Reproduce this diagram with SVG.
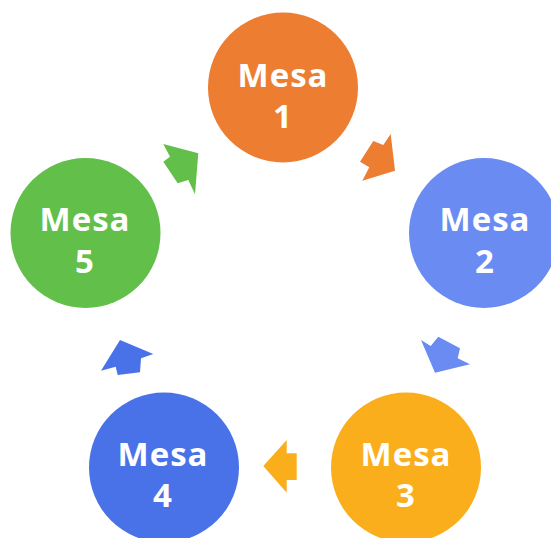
<svg xmlns="http://www.w3.org/2000/svg" width="551" height="538" viewBox="0 0 551 538">
<style>
.lbl{font-family:"Open Sans","Liberation Sans",sans-serif;font-weight:700;font-size:33px;fill:#ffffff;text-anchor:middle;letter-spacing:1px}
</style>
<rect width="551" height="538" fill="#ffffff"/>
<g id="connectors">
<polygon fill="#ED7D31" points="390.7,134 395,170.7 362.3,180.7 369.3,167.3 360,161.7 373.3,141 383.3,145"/>
<polygon fill="#6A8BF2" points="421,340 430.7,346 438.3,336.7 460,348.3 457.7,358.3 470,364.3 435,372.7"/>
<polygon fill="#FBAE1B" points="263.3,466 286.7,440 286.7,453.3 296.7,453.3 296.7,480 286.7,480 286.7,492.7"/>
<polygon fill="#4A72E8" points="120,340 153.3,354 141,358.3 140,372.3 117.7,375 115.7,366.7 101,370.7"/>
<polygon fill="#62BF4A" points="163.3,144 198.3,153.3 195,194.3 188.3,180 177.7,183.3 163.3,161.7 170,156.7"/>
</g>
<g id="mesa1">
<circle cx="283" cy="87.5" r="75" fill="#ED7D31"/>
<text class="lbl" x="283" y="87">Mesa</text>
<text class="lbl" x="283" y="128">1</text>
</g>
<g id="mesa2">
<circle cx="484" cy="233" r="75" fill="#6A8BF2"/>
<text class="lbl" x="485" y="231">Mesa</text>
<text class="lbl" x="485" y="273">2</text>
</g>
<g id="mesa3">
<circle cx="406" cy="467.5" r="75" fill="#FBAE1B"/>
<text class="lbl" x="406" y="466">Mesa</text>
<text class="lbl" x="406" y="507">3</text>
</g>
<g id="mesa4">
<circle cx="164" cy="467.5" r="75" fill="#4A72E8"/>
<text class="lbl" x="163" y="466">Mesa</text>
<text class="lbl" x="163" y="507">4</text>
</g>
<g id="mesa5">
<circle cx="85.5" cy="233" r="75" fill="#62BF4A"/>
<text class="lbl" x="85" y="231">Mesa</text>
<text class="lbl" x="85" y="273">5</text>
</g>
</svg>
